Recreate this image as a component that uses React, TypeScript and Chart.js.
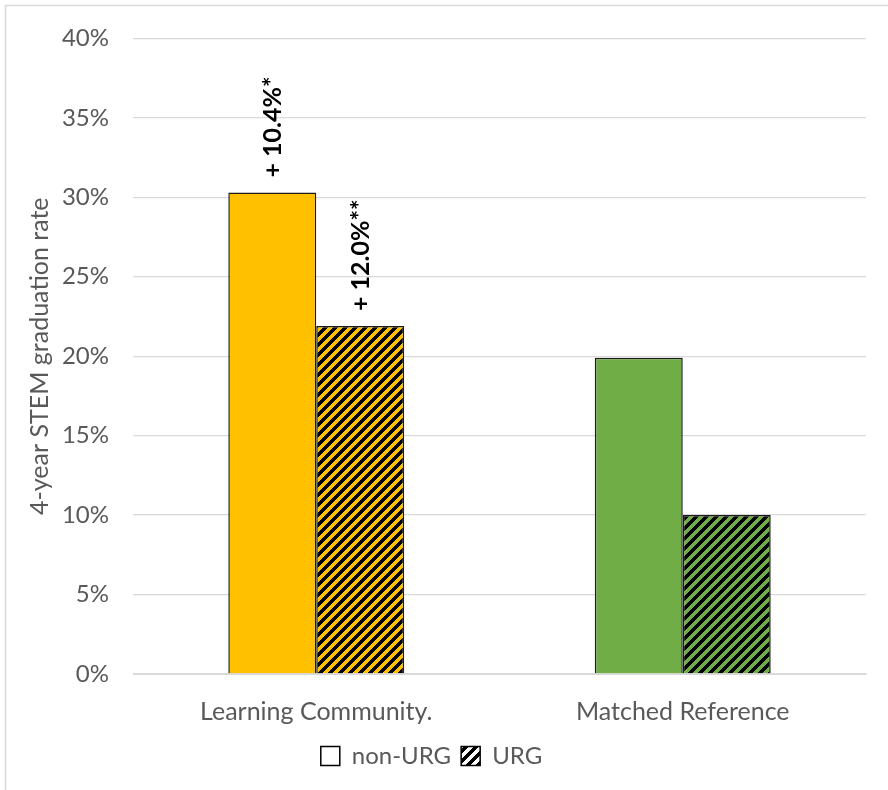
import React, { useEffect, useRef } from 'react';
import { Chart, registerables } from 'chart.js';

Chart.register(...registerables);

// ---- data ----
const categories = ['Learning Community.', 'Matched Reference'];
const seriesNames = ['non-URG', 'URG'];
const nonUrgValues = [30.3, 19.9];
const urgValues = [21.9, 10.0];
const nonUrgLabels = ['+ 10.4%*', ''];
const urgLabels = ['+ 12.0%**', ''];
const yMin = 0;
const yMax = 40;
const yStep = 5;
const yTitle = '4-year STEM graduation rate';

const ORANGE = '#FFC000';
const GREEN = '#70AD47';
const TEXT = '#595959';
const GRID = '#D9D9D9';
const FONT = 'Lato, Calibri, Carlito, sans-serif';

function makeHatch(bg: string): CanvasPattern {
  const size = 10;
  const c = document.createElement('canvas');
  c.width = size;
  c.height = size;
  const ctx = c.getContext('2d') as CanvasRenderingContext2D;
  ctx.fillStyle = bg;
  ctx.fillRect(0, 0, size, size);
  ctx.fillStyle = '#000';
  for (let y = 0; y < size; y++) {
    for (let x = 0; x < size; x++) {
      if ((x + y) % size < 5) ctx.fillRect(x, y, 1, 1);
    }
  }
  return ctx.createPattern(c, 'repeat') as CanvasPattern;
}

const framePlugin = {
  id: 'frame',
  beforeDraw(chart: any) {
    const ctx = chart.ctx;
    ctx.save();
    ctx.fillStyle = '#fff';
    ctx.fillRect(0, 0, chart.width, chart.height);
    ctx.strokeStyle = GRID;
    ctx.lineWidth = 1.5;
    ctx.beginPath();
    ctx.moveTo(5.5, chart.height + 5);
    ctx.lineTo(5.5, 5.5);
    ctx.lineTo(chart.width + 5, 5.5);
    ctx.stroke();
    ctx.restore();
  },
  afterLayout(chart: any) {
    if (chart.legend) {
      chart.legend.left -= 12;
      chart.legend.right -= 12;
    }
  },
};

const labelPlugin = {
  id: 'barLabels',
  afterDatasetsDraw(chart: any) {
    const ctx = chart.ctx;
    const sets = [nonUrgLabels, urgLabels];
    chart.data.datasets.forEach((_ds: any, di: number) => {
      const meta = chart.getDatasetMeta(di);
      meta.data.forEach((el: any, i: number) => {
        const txt = sets[di][i];
        if (!txt) return;
        ctx.save();
        ctx.translate(el.x + 1, el.y - 15);
        ctx.rotate(-Math.PI / 2);
        ctx.font = `bold 25px ${FONT}`;
        ctx.fillStyle = '#000';
        ctx.textAlign = 'left';
        ctx.textBaseline = 'middle';
        ctx.fillText(txt, 0, 0);
        ctx.restore();
      });
    });
  },
};

export default function App() {
  const ref = useRef<HTMLCanvasElement | null>(null);

  useEffect(() => {
    if (!ref.current) return;
    const orangeHatch = makeHatch(ORANGE);
    const greenHatch = makeHatch(GREEN);
    const whiteHatch = makeHatch('#FFFFFF');

    const chart = new Chart(ref.current, {
      type: 'bar',
      data: {
        labels: categories,
        datasets: [
          {
            label: seriesNames[0],
            data: nonUrgValues,
            backgroundColor: [ORANGE, GREEN],
            borderColor: '#1a1a1a',
            borderWidth: 1.5,
            barPercentage: 1,
            categoryPercentage: 0.48,
          },
          {
            label: seriesNames[1],
            data: urgValues,
            backgroundColor: [orangeHatch, greenHatch] as any,
            borderColor: '#1a1a1a',
            borderWidth: 1.5,
            barPercentage: 1,
            categoryPercentage: 0.48,
          },
        ],
      },
      options: {
        responsive: false,
        maintainAspectRatio: false,
        animation: false,
        layout: { padding: { left: 21, right: 22, top: 33, bottom: 12 } },
        scales: {
          x: {
            grid: { display: false },
            border: { display: true, color: GRID, width: 1 },
            ticks: {
              color: TEXT,
              font: { family: FONT, size: 25 },
              padding: 15,
            },
            afterFit(scale: any) {
              scale.height = 60;
            },
          },
          y: {
            min: yMin,
            max: yMax,
            ticks: {
              stepSize: yStep,
              color: TEXT,
              font: { family: FONT, size: 24 },
              padding: 24,
              callback: (v: any) => `${v}%`,
            },
            grid: { color: GRID, lineWidth: 1.3, drawTicks: false },
            border: { display: false },
            title: {
              display: true,
              text: yTitle,
              color: TEXT,
              font: { family: FONT, size: 25 },
              padding: { top: 4, bottom: 4 },
            },
            afterFit(scale: any) {
              scale.width = 112;
            },
          },
        },
        plugins: {
          tooltip: { enabled: false },
          legend: {
            display: true,
            position: 'bottom',
            labels: {
              boxWidth: 19,
              boxHeight: 19,
              padding: 10,
              color: TEXT,
              font: { family: FONT, size: 24 },
              generateLabels: () => [
                {
                  text: seriesNames[0],
                  fillStyle: '#FFFFFF',
                  strokeStyle: '#000000',
                  lineWidth: 1.5,
                  hidden: false,
                  datasetIndex: 0,
                  fontColor: TEXT,
                },
                {
                  text: seriesNames[1],
                  fillStyle: whiteHatch as any,
                  strokeStyle: '#000000',
                  lineWidth: 1.5,
                  hidden: false,
                  datasetIndex: 1,
                  fontColor: TEXT,
                },
              ],
            },
          },
        },
      },
      plugins: [framePlugin, labelPlugin],
    });
    return () => chart.destroy();
  }, []);

  return (
    <div style={{ position: 'absolute', left: 0, top: 0, width: 888, height: 790 }}>
      <canvas ref={ref} width={888} height={790} style={{ display: 'block', width: 888, height: 790 }} />
    </div>
  );
}
